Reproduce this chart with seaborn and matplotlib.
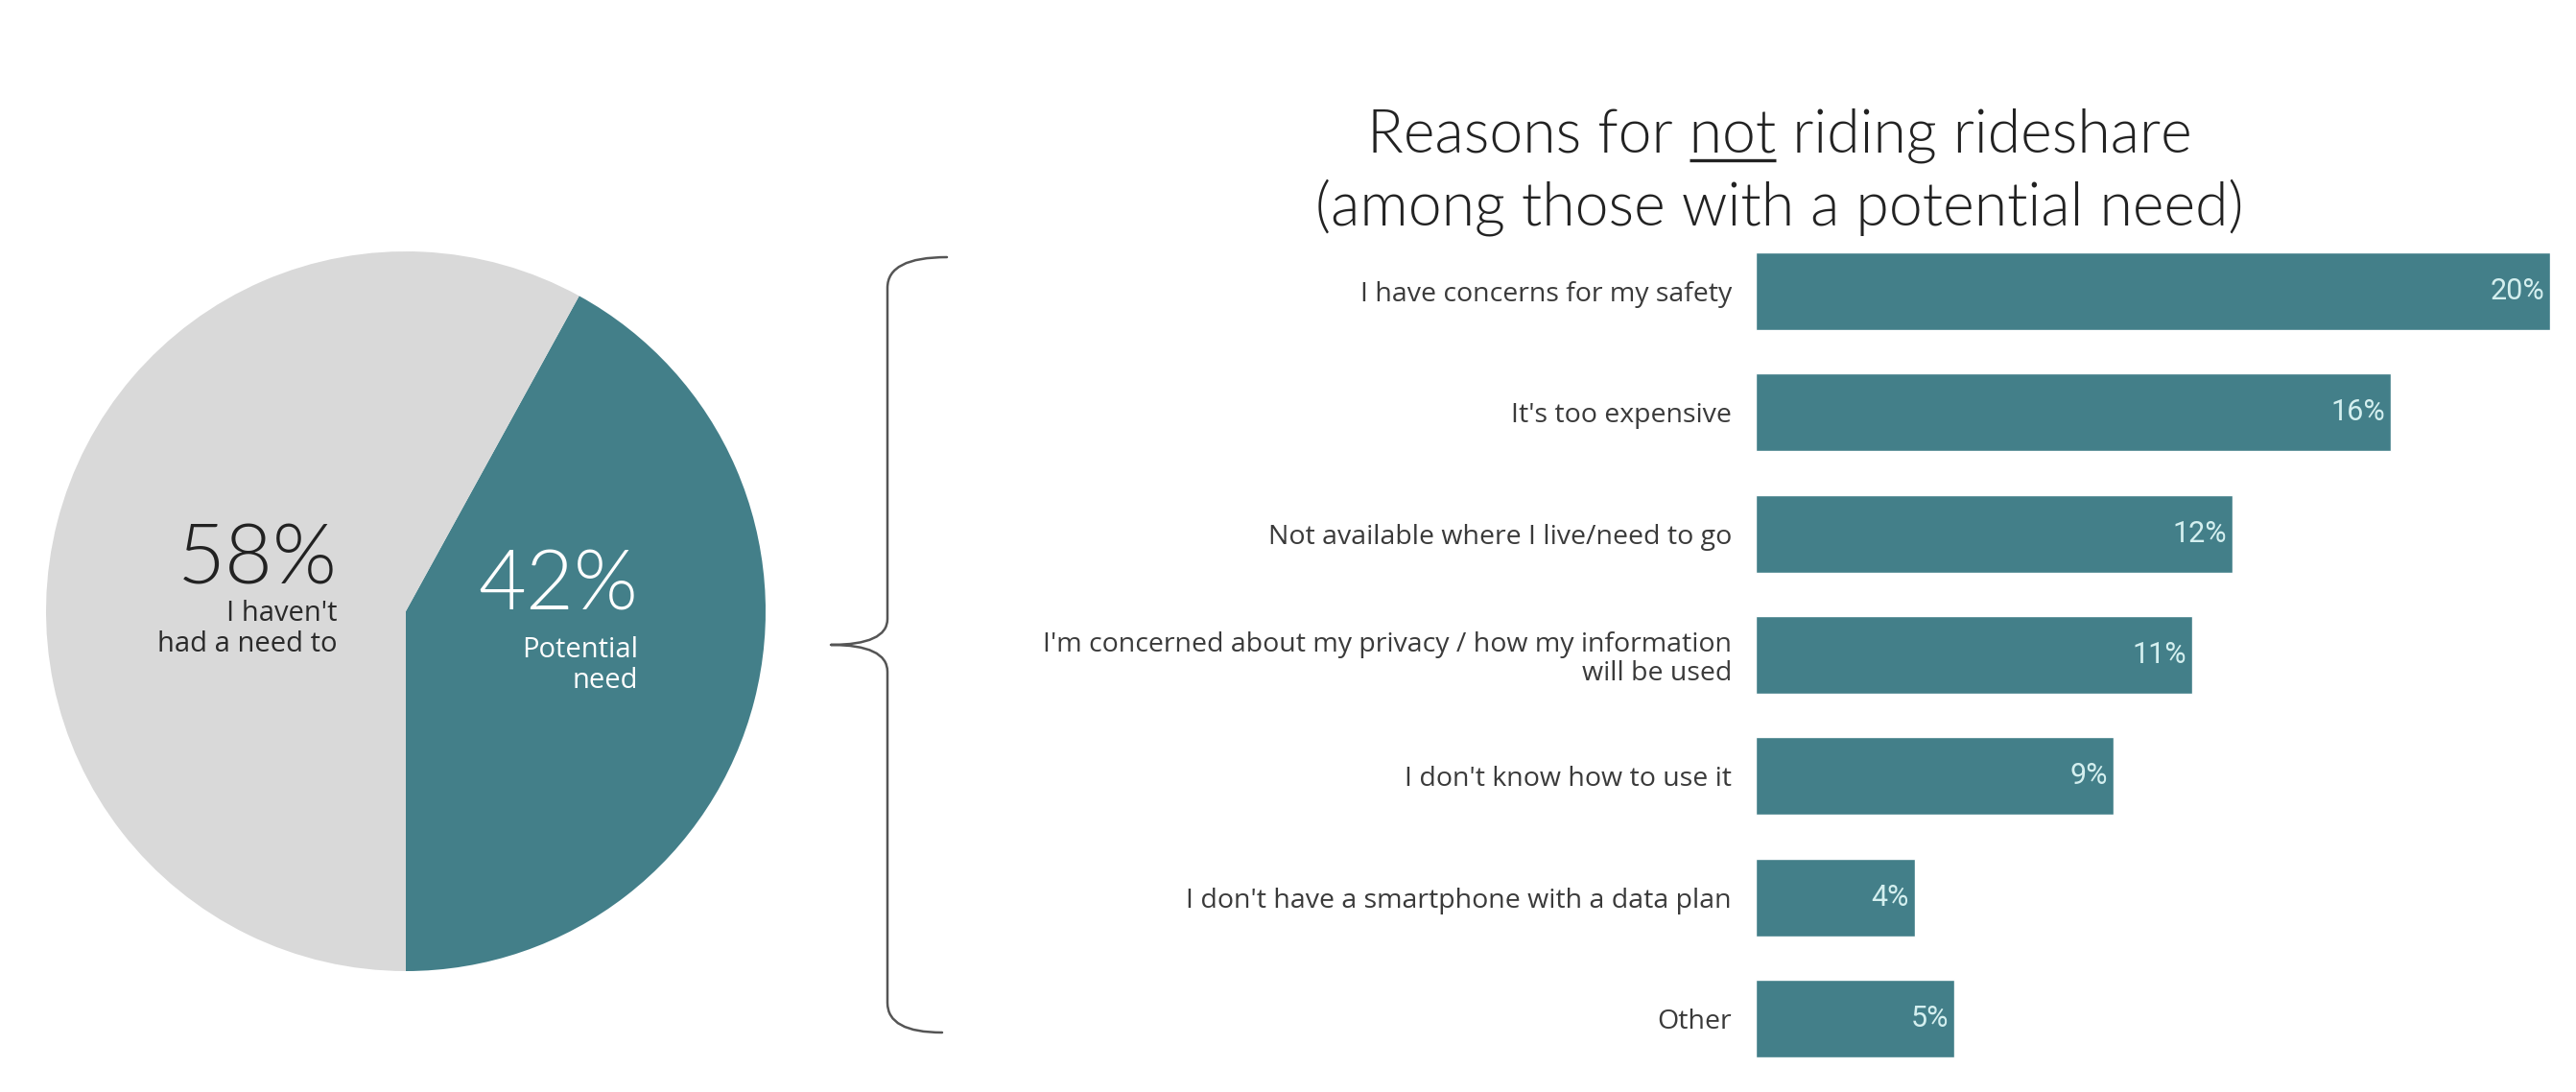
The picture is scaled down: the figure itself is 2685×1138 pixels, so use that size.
import matplotlib
matplotlib.use("Agg")
import matplotlib.pyplot as plt
from matplotlib.path import Path
from matplotlib.patches import PathPatch
from matplotlib.transforms import offset_copy
import seaborn as sns
import pandas as pd

# ---- data -------------------------------------------------------------
pie_labels = ["Potential need", "I haven't had a need to"]
pie_values = [42, 58]

reasons = [
    "I have concerns for my safety",
    "It's too expensive",
    "Not available where I live/need to go",
    "I'm concerned about my privacy / how my information\nwill be used",
    "I don't know how to use it",
    "I don't have a smartphone with a data plan",
    "Other",
]
reason_pct = [20, 16, 12, 11, 9, 4, 5]

title_line1 = "Reasons for not riding rideshare"
title_line2 = "(among those with a potential need)"
underlined_word = "not"

# ---- style ------------------------------------------------------------
TEAL = "#437F89"
GREY = "#D9D9D9"
LABEL_CLR = "#3A3A3A"
VALUE_CLR = "#D4EFEF"
SANS = ["Open Sans", "DejaVu Sans"]

sns.set_theme(style="white")
plt.rcParams["font.family"] = ["Lato", "DejaVu Sans"]

W, H, DPI = 2685, 1138, 100
fig = plt.figure(figsize=(W / DPI, H / DPI), dpi=DPI)
fig.patch.set_facecolor("white")

# overlay in pixel units for the title and the brace
ov = fig.add_axes([0, 0, 1, 1], zorder=0)
ov.set_xlim(0, W)
ov.set_ylim(H, 0)
ov.axis("off")

# ---- pie ----------------------------------------------------------------
cx, cy, r = 423, 637, 375
pax = fig.add_axes([(cx - r) / W, 1 - (cy + r) / H, 2 * r / W, 2 * r / H], zorder=1)
pax.pie(pie_values, colors=[TEAL, GREY], startangle=-90, counterclock=True,
        wedgeprops=dict(linewidth=0))
pax.set_xlim(-1, 1)
pax.set_ylim(-1, 1)
pax.set_aspect("equal")
pax.axis("off")

pax.text(-0.19, 0.14, f"{pie_values[1]}%", ha="right", va="center",
         fontsize=62, color="#222222", fontweight=300)
pax.text(-0.19, -0.05, "I haven't\nhad a need to", ha="right", va="center",
         fontsize=21, color="#2A2A2A", linespacing=1.15, family=SANS)
pax.text(0.645, 0.07, f"{pie_values[0]}%", ha="right", va="center",
         fontsize=62, color="white", fontweight=300)
pax.text(0.645, -0.15, "Potential\nneed", ha="right", va="center",
         fontsize=21, color="white", linespacing=1.15, family=SANS)

# ---- bars ---------------------------------------------------------------
df = pd.DataFrame({"reason": reasons, "pct": reason_pct})
x0, x1 = 1830, 2658
top, bot = 240, 1125
bax = fig.add_axes([x0 / W, 1 - bot / H, (x1 - x0) / W, (bot - top) / H], zorder=1)
sns.barplot(data=df, x="pct", y="reason", color=TEAL, saturation=1,
            width=0.64, orient="h", ax=bax)
bax.set_xlim(0, 20)
bax.set_ylim(len(reasons) - 0.5, -0.5)
bax.set_xlabel("")
bax.set_ylabel("")
bax.set_xticks([])
for s in bax.spines.values():
    s.set_visible(False)
bax.tick_params(axis="y", length=0, pad=18)
bax.set_facecolor("none")
for lab in bax.get_yticklabels():
    lab.set_fontfamily(SANS)
    lab.set_fontsize(20.5)
    lab.set_color(LABEL_CLR)
    lab.set_horizontalalignment("right")
    lab.set_multialignment("right")
    lab.set_linespacing(1.1)

val_tr = offset_copy(bax.transData, fig=fig, x=-6, y=0, units="dots")
for i, v in enumerate(reason_pct):
    bax.text(v, i, f"{v}%", transform=val_tr, ha="right", va="center",
             fontsize=22, color=VALUE_CLR, family=["Roboto", "DejaVu Sans"])

# ---- title with underlined word -------------------------------------------
tcx = 1855
tprops = dict(fontsize=45, color="#222222", fontweight=300)
t1 = ov.text(tcx, 158, title_line1, ha="center", va="baseline", **tprops)
ov.text(tcx, 234, title_line2, ha="center", va="baseline", **tprops)

fig.canvas.draw()
rend = fig.canvas.get_renderer()
bb = t1.get_window_extent(rend)
head = title_line1[: title_line1.index(underlined_word) + len(underlined_word)]
tmp = ov.text(0, 0, head, **tprops)
w_head = tmp.get_window_extent(rend).width
tmp.set_text(underlined_word)
w_word = tmp.get_window_extent(rend).width
tmp.remove()
ux1 = bb.x0 + w_head
ux0 = ux1 - w_word
ov.plot([ux0, ux1], [167, 167], color="#222222", lw=2.4, solid_capstyle="butt")

# ---- curly brace linking the pie to the bars ----------------------------
tipx = 866
verts = [
    (987, 268), (925, 268), (925, 300),
    (925, 645),
    (925, 672), (tipx, 672),
    (925, 672), (925, 700),
    (925, 1045),
    (925, 1076), (982, 1076),
]
codes = [Path.MOVETO, Path.CURVE3, Path.CURVE3, Path.LINETO,
         Path.CURVE3, Path.CURVE3, Path.CURVE3, Path.CURVE3,
         Path.LINETO, Path.CURVE3, Path.CURVE3]
ov.add_patch(PathPatch(Path(verts, codes), fill=False, edgecolor="#555555",
                       lw=1.8, capstyle="round", joinstyle="round"))

fig.savefig("out.png", dpi=DPI, facecolor="white")
